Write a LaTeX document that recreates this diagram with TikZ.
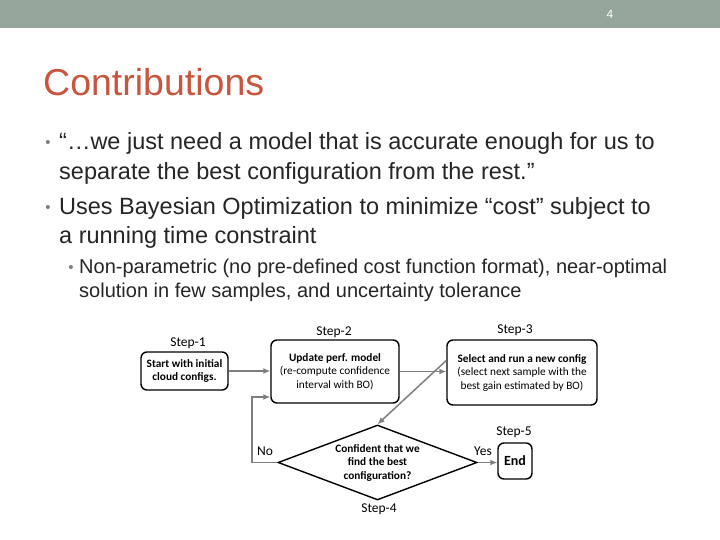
\documentclass[tikz,border=0pt]{standalone}
\usepackage{fontspec}
\setmainfont{Liberation Sans}
\newfontfamily\carl{Carlito}
\usetikzlibrary{shapes.geometric,arrows.meta}
\definecolor{bar}{HTML}{95A59B}
\definecolor{ttl}{HTML}{C8553D}
\definecolor{txt}{HTML}{262626}
\definecolor{arr}{HTML}{7F7F7F}
\begin{document}
\begin{tikzpicture}[x=1pt,y=-1pt,
 line/.style={anchor=west,inner sep=0,text=txt,font=\fontsize{23.5}{28}\selectfont},
 sline/.style={anchor=west,inner sep=0,text=txt,font=\fontsize{20}{24}\selectfont},
 bul/.style={anchor=center,inner sep=0,text=arr,font=\fontsize{15}{15}\selectfont},
 box/.style={draw=black,line width=1.4pt,rounded corners=6pt,align=center,font=\carl\fontsize{11.3}{13.5}\selectfont,inner sep=0},
 lab/.style={font=\carl\fontsize{13.5}{13.5}\selectfont,inner sep=0},
 con/.style={draw=arr,line width=1.5pt,-{Latex[length=7pt,width=6pt]}}]
\useasboundingbox (0,0) rectangle (720,540);
\fill[white] (0,0) rectangle (720,540);
\fill[bar] (0,0) rectangle (720,28);
\node[text=white,font=\fontsize{12}{12}\selectfont] (pg) at (610,14) {4};
\node[anchor=west,inner sep=0,text=ttl,font=\fontsize{37.5}{37.5}\selectfont] (title) at (43,82) {Contributions};
\node[bul] (b1) at (48,144) {•};
\node[line] (l1) at (59,143) {“…we just need a model that is accurate enough for us to};
\node[line] (l2) at (59,173) {separate the best configuration from the rest.”};
\node[bul] (b2) at (48,209) {•};
\node[line] (l3) at (59,208) {Uses Bayesian Optimization to minimize “cost” subject to};
\node[line] (l4) at (59,237) {a running time constraint};
\node[bul] (b3) at (71,269) {•};
\node[sline] (l5) at (79,268) {Non-parametric (no pre-defined cost function format), near-optimal};
\node[sline] (l6) at (79,292) {solution in few samples, and uncertainty tolerance};
% diagram
\node[box,minimum width=87,minimum height=38] (s1) at (184.5,371) {\bfseries Start with initial\\\bfseries cloud configs.};
\node[box,minimum width=128,minimum height=63] (s2) at (335,371.5) {\bfseries Update perf. model\\(re-compute confidence\\interval with BO)};
\node[box,minimum width=150,minimum height=65] (s3) at (522,372.5) {\bfseries Select and run a new config\\(select next sample with the\\best gain estimated by BO)};
\node[draw=black,line width=1.4pt,diamond,aspect=2.65,inner sep=0,minimum width=199,minimum height=75,align=center,font=\carl\bfseries\fontsize{11.3}{13.5}\selectfont] (s4) at (377.5,462.5) {Confident that we\\find the best\\configuration?};
\node[box,minimum width=34,minimum height=36,font=\carl\bfseries\fontsize{14}{14}\selectfont] (s5) at (515,461) {End};
\node[lab] (t1) at (188,343) {Step-1};
\node[lab] (t2) at (334,332) {Step-2};
\node[lab] (t3) at (515,330) {Step-3};
\node[lab] (t4) at (379,509) {Step-4};
\node[lab] (t5) at (514,432) {Step-5};
\node[lab] (no) at (265,451) {No};
\node[lab] (yes) at (483,451) {Yes};
\coordinate (c1) at (252,462.5);
\coordinate (c2) at (252,397);
\draw[con] (s1.east) -- (s2.west|-s1.east);
\draw[con] (s2.east) -- (s2.east-|s3.west);
\draw[con] ([yshift=12]s3.west) -- (s4.north);
\draw[con] (s4.west) -- (c1) -- (c2) -- (c2-|s2.west);
\draw[con] (s4.east) -- (s5.west|-s4.east);
\end{tikzpicture}
\end{document}
